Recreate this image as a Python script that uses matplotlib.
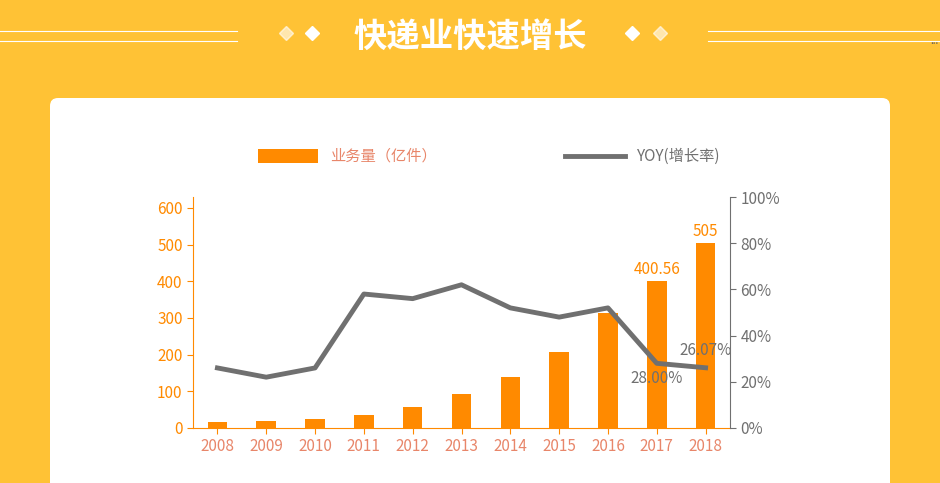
import matplotlib
matplotlib.use("Agg")
import matplotlib.pyplot as plt
from matplotlib.patches import FancyBboxPatch, Rectangle
from matplotlib.lines import Line2D

plt.rcParams['font.family'] = ['Noto Sans CJK SC', 'DejaVu Sans']

years = ['2008','2009','2010','2011','2012','2013','2014','2015','2016','2017','2018']
volume = [15.1, 18.6, 23.4, 36.7, 56.9, 91.9, 139.6, 206.7, 312.8, 400.56, 505]
yoy = [26, 22, 26, 58, 56, 62, 52, 48, 52, 28.0, 26.07]

W, H = 940, 483
fig = plt.figure(figsize=(W/100, H/100), dpi=100)
fig.patch.set_facecolor('#FFC235')
bg = fig.add_axes([0, 0, 1, 1]); bg.set_xlim(0, W); bg.set_ylim(H, 0); bg.axis('off')
bg.add_patch(FancyBboxPatch((50, 98), 840, 420, boxstyle="round,pad=0,rounding_size=8",
                            fc='white', ec='none'))
bg.text(470, 37, '快递业快速增长', color='white', fontsize=24, fontweight='bold', ha='center', va='center')
for y in (31, 36, 42):
    pass
for (x0, x1) in ((0, 237), (708, 940)):
    bg.plot([x0, x1], [31, 31], color='white', lw=0.8)
    bg.plot([x0, x1], [41, 41], color='white', lw=0.8)
for x, a in ((286, 0.6), (312, 1), (632, 1), (660, 0.6)):
    bg.plot(x, 33, marker='D', color='white', ms=7, alpha=a)
bg.text(934, 44, '...', color='#555', fontsize=7, ha='center')

orange = '#FF8A00'; salmon = '#E8866A'; gray = '#707070'
ax = fig.add_axes([193/W, 1-428/H, (730-193)/W, (428-197)/H])
ax.bar(range(len(years)), volume, width=0.4, color=orange, zorder=2)
ax.set_ylim(0, 630); ax.set_xlim(-0.5, len(years)-0.5)
ax.set_yticks(range(0, 601, 100))
ax.tick_params(axis='y', colors=orange, labelsize=11, length=4)
ax.set_xticks(range(len(years))); ax.set_xticklabels(years)
ax.tick_params(axis='x', colors=orange, labelcolor=salmon, labelsize=11, length=4)
for s in ('top',): ax.spines[s].set_visible(False)
ax.spines['left'].set_color(orange); ax.spines['bottom'].set_color(orange)
ax.spines['right'].set_visible(False)
for i in (9, 10):
    ax.text(i, volume[i] + 8, f'{volume[i]:g}', color=orange, fontsize=11, ha='center', va='bottom')
ax.set_facecolor('none')

ax2 = ax.twinx()
ax2.plot(range(len(years)), yoy, color=gray, lw=3.5, zorder=3)
ax2.set_ylim(0, 100)
ax2.set_yticks(range(0, 101, 20)); ax2.set_yticklabels([f'{v}%' for v in range(0, 101, 20)])
ax2.tick_params(axis='y', colors=gray, labelsize=11, length=4)
ax2.spines['right'].set_color(gray)
for s in ('top', 'left', 'bottom'): ax2.spines[s].set_visible(False)
ax2.text(9, yoy[9] - 3, '28.00%', color=gray, fontsize=11, ha='center', va='top')
ax2.text(10, yoy[10] + 4, '26.07%', color=gray, fontsize=11, ha='center', va='bottom')

bg.add_patch(Rectangle((258, 149), 60, 14, fc=orange, ec='none'))
bg.text(330, 156, '业务量（亿件）', color=salmon, fontsize=11, va='center')
bg.plot([565, 625], [156, 156], color=gray, lw=3.5)
bg.text(637, 156, 'YOY(增长率)', color=gray, fontsize=11, va='center')

fig.savefig('out.png', dpi=100, facecolor=fig.get_facecolor())
